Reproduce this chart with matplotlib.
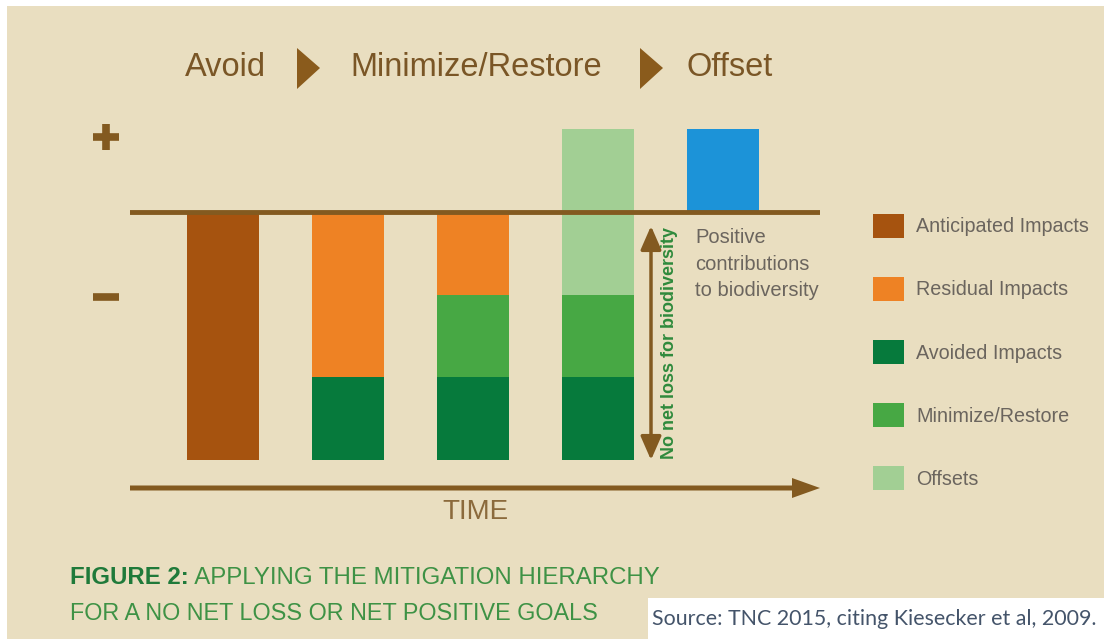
import numpy as np
import matplotlib
matplotlib.use("Agg")
import matplotlib.pyplot as plt
from matplotlib.patches import Rectangle, Polygon, Patch, FancyArrow

# ---- data (units of impact, baseline = 0) ----
stages = ["Anticipated", "Avoid", "Minimize/Restore", "Offset", "Net positive"]
anticipated = [3, 0, 0, 0, 0]
avoided = [0, 1, 1, 1, 0]
minimize = [0, 0, 1, 1, 0]
residual = [0, 2, 1, 0, 0]
offsets = [0, 0, 0, 2, 0]
positive = [0, 0, 0, 0, 1]
floor = -3

header = ["Avoid", "Minimize/Restore", "Offset"]
legend_labels = ["Anticipated Impacts", "Residual Impacts", "Avoided Impacts",
                 "Minimize/Restore", "Offsets"]

# ---- colours ----
BG = "#E9DEC0"
BROWN = "#835A20"
C_ANT = "#A6530F"
C_RES = "#EE8224"
C_AVO = "#067A3C"
C_MIN = "#47A844"
C_OFF = "#A2CF94"
C_POS = "#1C93D8"
GRAY = "#6B655E"
SANS = ["Liberation Sans", "DejaVu Sans"]

W, H = 1104, 639
fig = plt.figure(figsize=(W / 100, H / 100), dpi=100)
fig.patch.set_facecolor("white")

# background / annotation layer in pixel coordinates
bg = fig.add_axes([0, 0, 1, 1], zorder=0)
bg.set_xlim(0, W)
bg.set_ylim(H, 0)
bg.axis("off")
bg.add_patch(Rectangle((7, 6), W - 7, H - 6, color=BG, lw=0))
bg.add_patch(Rectangle((648, 598), W - 648, H - 598, color="white", lw=0))

# header
for xt, txt in zip((185, 350, 686), header):
    bg.text(xt, 68, txt, fontsize=23.5, family=SANS, color="#7A5626", va="center")
for x0 in (297, 640):
    bg.add_patch(Polygon([(x0, 48), (x0 + 23, 68), (x0, 89)], closed=True,
                         color="#8A5B1C", lw=0))

# plus / minus
bg.plot(106, 137, marker="+", ms=19, mew=5.5, color=BROWN)
bg.plot(106, 297, marker="_", ms=19, mew=5.5, color=BROWN)

# time arrow
bg.add_patch(FancyArrow(130, 488, 690, 0, width=5, head_width=20, head_length=28,
                        length_includes_head=True, color=BROWN, lw=0))
bg.text(475, 512, "TIME", fontsize=20, family=SANS, color="#8B6A3C",
        ha="center", va="center")

# no net loss arrow
bg.annotate("", xy=(651, 226), xytext=(651, 460),
            arrowprops=dict(arrowstyle="<|-|>,head_length=0.8,head_width=0.35",
                            mutation_scale=18, lw=2.5, color=BROWN,
                            shrinkA=0, shrinkB=0))
bg.text(669, 343, "No net loss for biodiversity", rotation=90, fontsize=13,
        fontweight="bold", family=SANS, color="#2F8A3C", ha="center", va="center")
bg.text(695, 228, "Positive\ncontributions\nto biodiversity", fontsize=14.5,
        family=SANS, color=GRAY, ha="left", va="top", linespacing=1.5)

# caption
t1 = bg.text(70, 578, "FIGURE 2:", fontsize=17.3, fontweight="bold", family=SANS,
             color="#1F7A3A", va="center")
bg.annotate(" APPLYING THE MITIGATION HIERARCHY", xy=(1, 0.5), xycoords=t1,
            fontsize=17.3, family=SANS, color="#3E9245", va="center")
bg.text(70, 613, "FOR A NO NET LOSS OR NET POSITIVE GOALS", fontsize=16.8,
        family=SANS, color="#3E9245", va="center")
bg.text(652, 619, "Source: TNC 2015, citing Kiesecker et al, 2009.", fontsize=15.4,
        family=["Lato", "DejaVu Sans"], color="#44546A", va="center")

# ---- bars ----
ax = fig.add_axes([130 / W, (H - 470) / H, 690 / W, 350 / H], zorder=1)
ax.patch.set_alpha(0)
ax.axis("off")
ax.set_xlim(-0.744, 4.776)
ax.set_ylim(-3.12, 1.112)

x = np.arange(len(stages))
bw = 0.576
bottom = np.full(len(stages), floor, dtype=float)
for vals, col in [(anticipated, C_ANT), (avoided, C_AVO), (minimize, C_MIN),
                  (residual, C_RES), (offsets, C_OFF)]:
    ax.bar(x, vals, bw, bottom=bottom, color=col, lw=0)
    bottom += np.array(vals)
ax.bar(x, positive, bw, bottom=0, color=C_POS, lw=0)
ax.axhline(0, color=BROWN, lw=3.5, zorder=3)

handles = [Patch(facecolor=c, edgecolor="none")
           for c in (C_ANT, C_RES, C_AVO, C_MIN, C_OFF)]
fig.legend(handles, legend_labels, loc="upper left",
           bbox_to_anchor=(855 / W, 1 - 196 / H), frameon=False,
           prop={"family": SANS, "size": 14.2}, labelcolor=GRAY,
           handlelength=1.6, handleheight=1.5, handletextpad=0.6,
           labelspacing=1.98)

fig.savefig("out.png", dpi=100)
